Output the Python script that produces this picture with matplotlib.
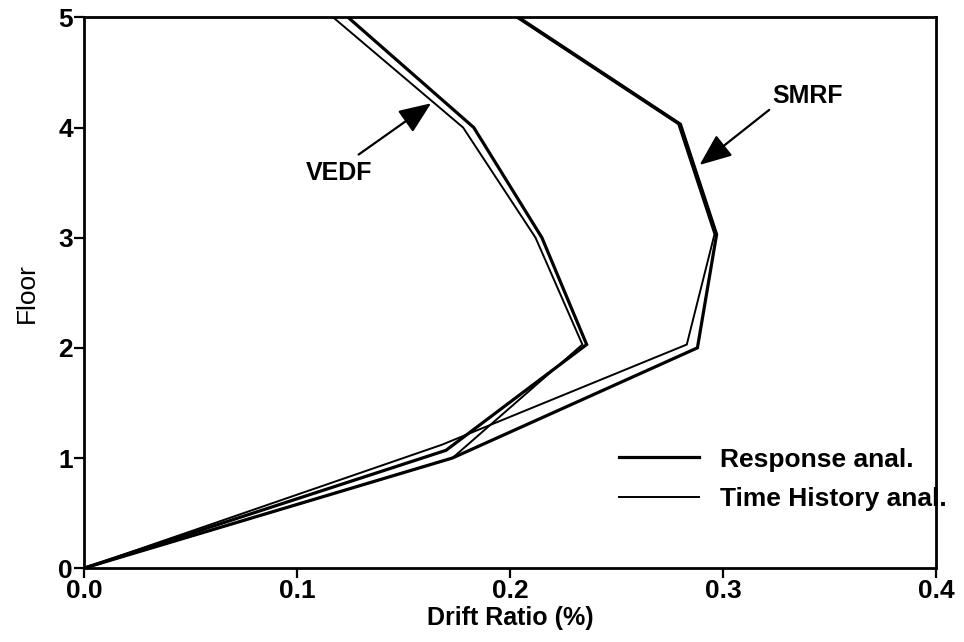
import matplotlib
matplotlib.use("Agg")
import matplotlib.pyplot as plt
from matplotlib.lines import Line2D

plt.rcParams['font.family'] = ['Liberation Sans', 'DejaVu Sans']

# Data (drift ratio in %, floor level)
smrf_resp_x = [0.0, 0.173, 0.288, 0.297, 0.280, 0.204]
smrf_resp_y = [0, 1.0, 2, 3.03, 4.03, 5]
smrf_th_x = [0.0, 0.168, 0.283, 0.296, 0.279, 0.203]
smrf_th_y = [0, 1.12, 2.03, 3.03, 4.03, 5]
vedf_resp_x = [0.0, 0.170, 0.236, 0.215, 0.183, 0.124]
vedf_resp_y = [0, 1.07, 2.03, 3, 4, 5]
vedf_th_x = [0.0, 0.173, 0.234, 0.212, 0.178, 0.117]
vedf_th_y = [0, 1.0, 2.03, 3, 4, 5]

xticks = [0.0, 0.1, 0.2, 0.3, 0.4]
xtick_labels = ['0.0', '0.1', '0.2', '0.3', '0.4']
yticks = [0, 1, 2, 3, 4, 5]

fig = plt.figure(figsize=(9.64, 6.42), dpi=100)
ax = fig.add_axes([0.087, 0.115, 0.884, 0.858])

lw_thick = 2.3
lw_thin = 1.4
ax.plot(smrf_resp_x, smrf_resp_y, color='black', lw=lw_thick, solid_joinstyle='miter')
ax.plot(smrf_th_x, smrf_th_y, color='black', lw=lw_thin, solid_joinstyle='miter')
ax.plot(vedf_resp_x, vedf_resp_y, color='black', lw=lw_thick, solid_joinstyle='miter')
ax.plot(vedf_th_x, vedf_th_y, color='black', lw=lw_thin, solid_joinstyle='miter')

ax.set_xlim(0, 0.4)
ax.set_ylim(0, 5)
ax.set_xticks(xticks)
ax.set_xticklabels(xtick_labels)
ax.set_yticks(yticks)
for lab in ax.get_xticklabels() + ax.get_yticklabels():
    lab.set_fontweight('bold')
    lab.set_fontsize(19)
ax.tick_params(direction='out', length=7, width=1.6, pad=1)
for s in ax.spines.values():
    s.set_linewidth(2.0)

ax.set_xlabel('Drift Ratio (%)', fontsize=18, fontweight='bold', labelpad=2)
ax.set_ylabel('Floor', fontsize=19, labelpad=14)

# annotations
ax.annotate('SMRF', xy=(0.289, 3.66), xytext=(0.323, 4.18),
            fontsize=18, fontweight='bold', ha='left', va='bottom',
            arrowprops=dict(arrowstyle='-|>,head_length=1.1,head_width=0.45',
                            color='black', lw=1.6, shrinkA=0, shrinkB=0,
                            relpos=(0.0, 0.0)))
ax.annotate('VEDF', xy=(0.163, 4.22), xytext=(0.104, 3.70),
            fontsize=18, fontweight='bold', ha='left', va='top',
            arrowprops=dict(arrowstyle='-|>,head_length=1.1,head_width=0.45',
                            color='black', lw=1.6, shrinkA=0, shrinkB=0,
                            relpos=(0.8, 1.25)))

handles = [Line2D([], [], color='black', lw=lw_thick),
           Line2D([], [], color='black', lw=lw_thin)]
leg = ax.legend(handles, ['Response anal.', 'Time History anal.'],
                loc='lower right', bbox_to_anchor=(1.04, 0.06),
                frameon=False, handlelength=3.0, handletextpad=0.8,
                labelspacing=0.6, prop=dict(size=19, weight='bold'))

fig.savefig('out.png', dpi=100)
